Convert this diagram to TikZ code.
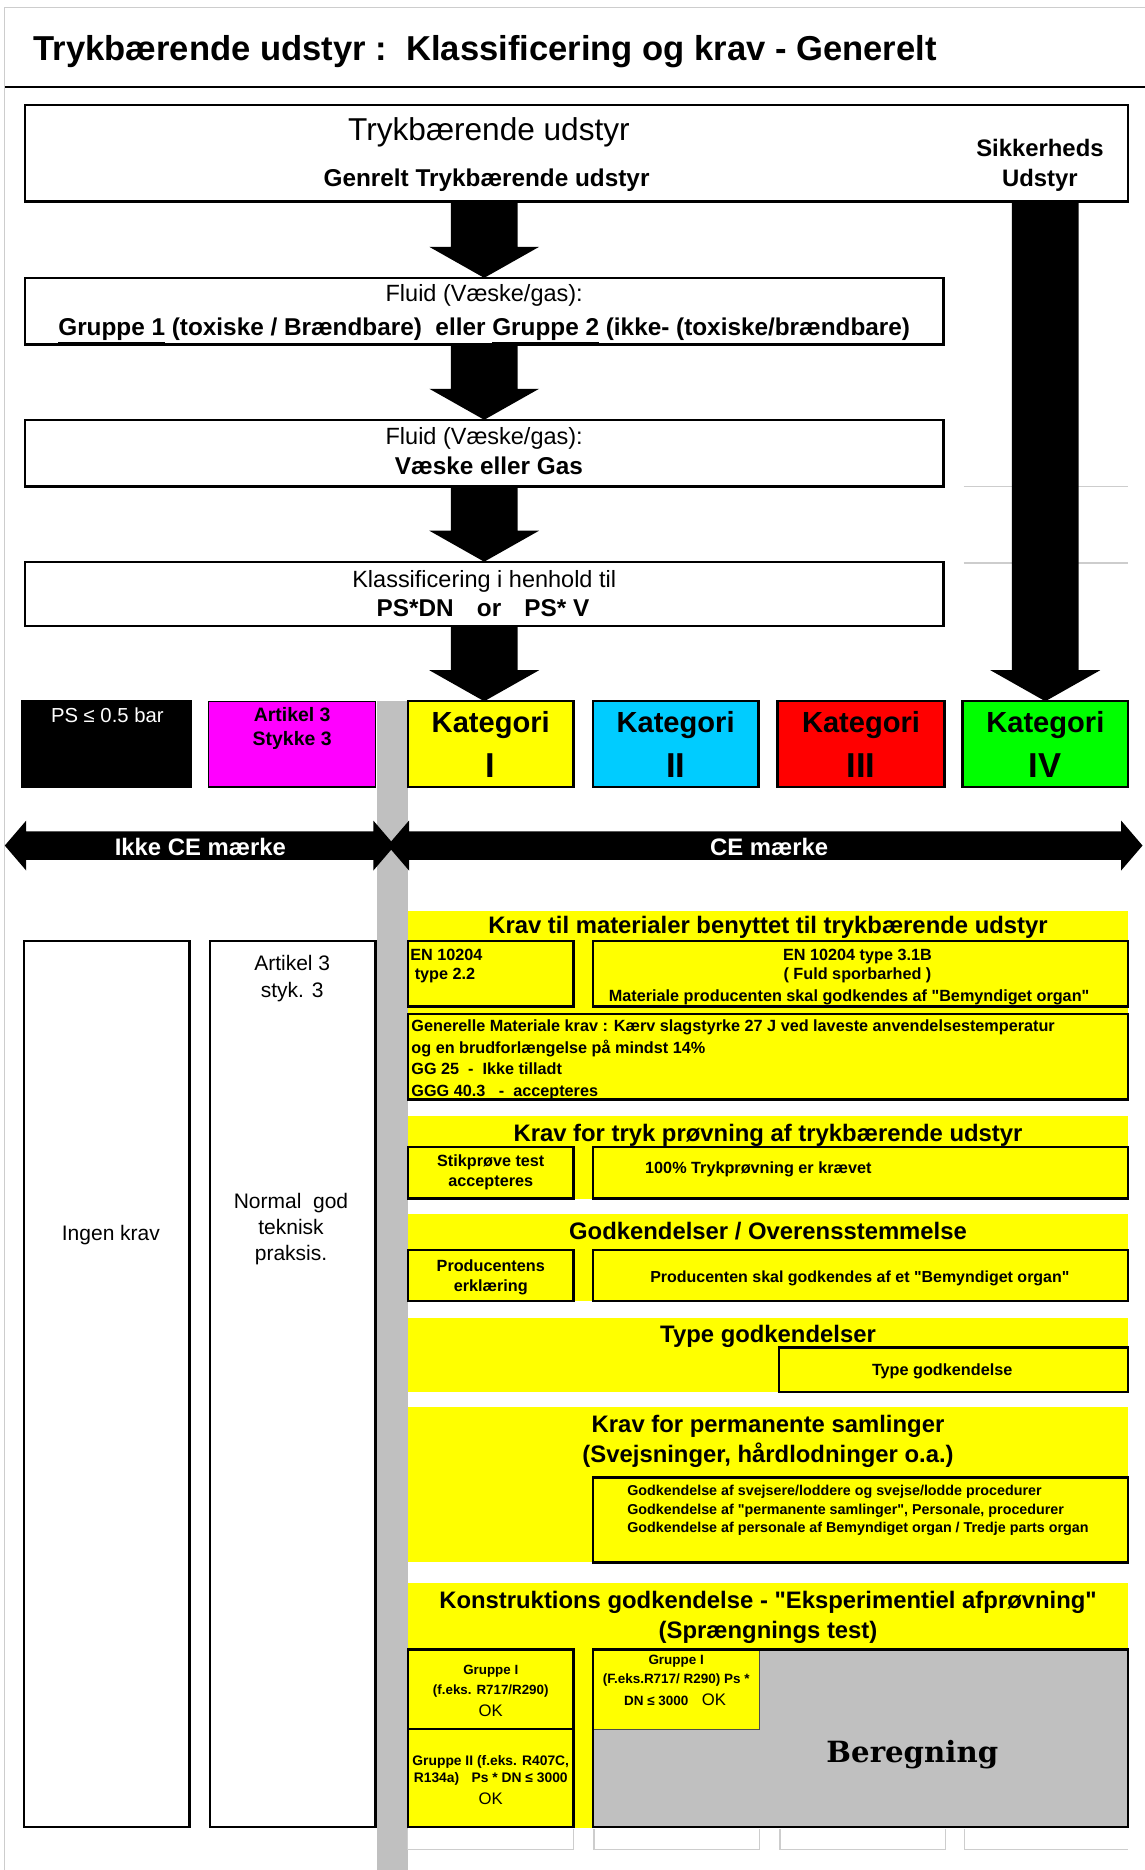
\documentclass[tikz,border=0pt]{standalone}
\usepackage{fontspec}
\setmainfont{Liberation Sans}[Ligatures=TeXOff]
\newfontfamily\slabfont{DejaVu Serif}
\usetikzlibrary{calc}

\definecolor{kyellow}{RGB}{255,255,0}
\definecolor{kcyan}{RGB}{0,204,255}
\definecolor{kred}{RGB}{255,0,0}
\definecolor{kgreen}{RGB}{0,255,0}
\definecolor{kmagenta}{RGB}{255,0,255}
\definecolor{kgray}{RGB}{192,192,192}
\definecolor{faint}{RGB}{205,205,205}

% straight double quote
\newcommand\dq{\symbol{34}}

\tikzset{
  panel/.style={draw=black, line width=2pt, fill=white, anchor=north west,
                inner sep=0pt, outer sep=0pt},
  tx/.style={anchor=base, inner sep=0pt, outer sep=0pt},
  txl/.style={tx, anchor=base west},
  fb/.style={font=\fontsize{#1}{#1}\selectfont\bfseries},
  fr/.style={font=\fontsize{#1}{#1}\selectfont},
}

% rectangle given by its corners: [style]{name}{x1}{y1}{x2}{y2}
\newcommand\panelbox[6][]{%
  \node[panel,#1,minimum width={#5-#3},minimum height={#6-#4}] (#2) at (#3,#4) {};}
% one line of text: [style]{name}{x,y}{text}
\newcommand\tline[4][]{\node[tx,#1] (#2) at (#3) {#4};}
% broad downward block arrow from #1 to the tip #2
\newcommand\blockdown[2]{%
  \fill let \p1=(#1), \p2=(#2) in
    (\x2-28pt,\y1) -- (\x2+28pt,\y1) -- (\x2+28pt,\y2+26pt) -- (\x2+46pt,\y2+26pt)
    -- (\x2,\y2) -- (\x2-46pt,\y2+26pt) -- (\x2-28pt,\y2+26pt) -- cycle;}
% horizontal double-headed block arrow between two tips
\newcommand\blockboth[2]{%
  \fill let \p1=(#1), \p2=(#2) in
    (\x1,\y1) -- (\x1+18pt,\y1+21pt) -- (\x1+18pt,\y1+12pt) -- (\x2-18pt,\y1+12pt)
    -- (\x2-18pt,\y1+21pt) -- (\x2,\y1) -- (\x2-18pt,\y1-21pt) -- (\x2-18pt,\y1-12pt)
    -- (\x1+18pt,\y1-12pt) -- (\x1+18pt,\y1-21pt) -- cycle;}

\begin{document}
\begin{tikzpicture}[x=1pt,y=-1pt]
\useasboundingbox (0,0) rectangle (960,1568);

% page frame and title rule
\draw[faint, line width=1pt] (4,1568) -- (4,6) -- (960,6);
\draw[black, line width=2.2pt] (4,73) -- (960,73);
\node[txl,fb=29] (title) at (28,51) {Trykbærende udstyr :\ \ Klassificering og krav - Generelt};

% separator band between the two halves
\panelbox[draw=none,fill=kgray]{band}{316}{588}{342}{1568}

% classification flow
\panelbox{b1}{21}{88}{946}{169}
\panelbox{b2}{21}{233}{791}{289}
\panelbox{b3}{21}{352}{791}{408}
\panelbox{b4}{21}{471}{791}{525}
\draw[faint, line width=1pt] (808,408) -- (946,408) (808,472) -- (946,472);

% category row
\panelbox[fill=black]{ps}{19}{588}{160}{660}
\panelbox[fill=kmagenta,line width=1.2pt]{art}{175}{588}{315}{660}
\panelbox[fill=kyellow]{kat1}{342}{588}{481}{660}
\panelbox[fill=kcyan]{kat2}{497}{588}{636}{660}
\panelbox[fill=kred]{kat3}{652}{588}{792}{660}
\panelbox[fill=kgreen]{kat4}{807}{588}{946}{660}

% block arrows
\blockdown{b1.south -| b2.north}{b2.north}
\blockdown{b2.south}{b3.north}
\blockdown{b3.south}{b4.north}
\blockdown{b4.south}{b4.south |- kat1.north}
\blockdown{b1.south -| kat4.north}{kat4.north}

% CE marking arrows
\coordinate (ikL) at (4,709);
\coordinate (ikR) at (331,709);
\coordinate (ceL) at (325,709);
\coordinate (ceR) at (958,709);
\blockboth{ikL}{ikR}
\blockboth{ceL}{ceR}

% left columns
\panelbox{lc1}{20}{789}{159}{1532}
\panelbox{lc2}{176}{789}{315}{1532}

% requirement sections
\panelbox[draw=none,fill=kyellow]{s1}{342}{764}{946}{923}
\panelbox[fill=kyellow]{s1a}{342}{789}{481}{844}
\panelbox[fill=kyellow]{s1b}{497}{789}{946}{844}
\panelbox[fill=kyellow]{s1c}{342}{850}{946}{922}

\panelbox[draw=none,fill=kyellow]{s2}{342}{936}{946}{1005}
\panelbox[fill=kyellow]{s2a}{342}{962}{481}{1005}
\panelbox[fill=kyellow]{s2b}{497}{962}{946}{1005}

\panelbox[draw=none,fill=kyellow]{s3}{342}{1018}{946}{1091}
\panelbox[fill=kyellow]{s3a}{342}{1048}{481}{1091}
\panelbox[fill=kyellow]{s3b}{497}{1048}{946}{1091}

\panelbox[draw=none,fill=kyellow]{s4}{342}{1105}{946}{1167}
\panelbox[fill=kyellow]{s4b}{653}{1130}{946}{1167}

\panelbox[draw=none,fill=kyellow]{s5}{342}{1180}{946}{1310}
\panelbox[fill=kyellow]{s5b}{497}{1239}{946}{1310}

\panelbox[draw=none,fill=kyellow]{s6}{342}{1327}{946}{1533}
\panelbox[fill=kyellow]{s6a}{342}{1383}{481}{1450}
\panelbox[fill=kyellow]{s6b}{342}{1450}{481}{1532}
\panelbox[fill=kgray]{s6c}{497}{1383}{946}{1532}
\panelbox[fill=kyellow,draw=black!70,line width=1.3pt]{s6d}{497}{1383}{637}{1450}
\draw[line width=2pt] (s6c.north west) rectangle (s6c.south east);

% empty cells below
\draw[faint, line width=1pt]
  (342,1534) -- (342,1551) -- (481,1551) -- (481,1534)
  (498,1534) -- (498,1551) -- (637,1551) -- (637,1534)
  (654,1534) -- (654,1551) -- (793,1551) -- (793,1534)
  (809,1534) -- (809,1551) -- (946,1551);

% texts: flow boxes
\tline[fr=26.5]{b1t1}{410,118}{Trykbærende udstyr}
\tline[fb=20.4]{b1t2}{408,156}{Genrelt Trykbærende udstyr}
\tline[fb=20]{b1t3}{872,131}{Sikkerheds}
\tline[fb=20]{b1t4}{872,156}{Udstyr}

\tline[fr=19.7]{b2t1}{406,253}{Fluid (Væske/gas):}
\tline[fb=20.4]{b2t2}{406,281}{\underline{Gruppe 1} (toxiske / Brændbare)\ \ eller \underline{Gruppe 2} (ikke- (toxiske/brændbare)}

\tline[fr=19.7]{b3t1}{406,373}{Fluid (Væske/gas):}
\tline[fb=20.4]{b3t2}{410,398}{Væske eller Gas}

\tline[fr=19.7]{b4t1}{406,493}{Klassificering i henhold til}
\tline[fb=20.4]{b4t2}{405,517}{PS*DN\hspace{0.95em}or\hspace{0.95em}PS* V}

% texts: categories
\tline[fr=17,text=white]{pst}{90,606}{PS ≤ 0.5 bar}
\tline[fb=16.3]{artt1}{245,605}{Artikel 3}
\tline[fb=16.3]{artt2}{245,625}{Stykke 3}
\tline[fb=24.4]{k1a}{411.5,614}{Kategori}
\tline[fb=29]{k1b}{411.5,652}{I}
\tline[fb=24.4]{k2a}{566.5,614}{Kategori}
\tline[fb=29]{k2b}{566.5,652}{II}
\tline[fb=24.4]{k3a}{722,614}{Kategori}
\tline[fb=29]{k3b}{722,652}{III}
\tline[fb=24.4]{k4a}{876.5,614}{Kategori}
\tline[fb=29]{k4b}{876.5,652}{IV}

\tline[fb=20,text=white]{ikke}{168,717}{Ikke CE mærke}
\tline[fb=20,text=white]{ce}{645,717}{CE mærke}

% texts: left columns
\tline[fr=17.6]{lc1t}{93,1040}{Ingen krav}
\tline[fr=17.6]{lc2t1}{245,814}{Artikel 3}
\tline[fr=17.6]{lc2t2}{245,836}{styk. 3}
\tline[fr=17.6]{lc2t3}{244,1013}{Normal\ \ god}
\tline[fr=17.6]{lc2t4}{244,1035}{teknisk}
\tline[fr=17.6]{lc2t5}{244,1057}{praksis.}

% texts: section 1
\tline[fb=20]{s1t}{644,783}{Krav til materialer benyttet til trykbærende udstyr}
\node[txl,fb=13.6] (s1a1) at (344,805) {EN 10204};
\node[txl,fb=13.6] (s1a2) at (344,821) {\ type 2.2};
\tline[fb=13.6]{s1b1}{719,805}{EN 10204 type 3.1B}
\tline[fb=13.6]{s1b2}{719,821}{( Fuld sporbarhed )}
\tline[fb=13.6]{s1b3}{712,840}{Materiale producenten skal godkendes af \dq Bemyndiget organ\dq}
\node[txl,fb=13.6] (s1c1) at (345,865) {Generelle Materiale krav : Kærv slagstyrke 27 J ved laveste anvendelsestemperatur};
\node[txl,fb=13.6] (s1c2) at (345,883) {og en brudforlængelse på mindst 14\%};
\node[txl,fb=13.6] (s1c3) at (345,901) {GG 25\ \ -\ \ Ikke tilladt};
\node[txl,fb=13.6] (s1c4) at (345,919) {GGG 40.3\ \ \ -\ \ accepteres};

% texts: section 2
\tline[fb=20]{s2t}{644,957}{Krav for tryk prøvning af trykbærende udstyr}
\tline[fb=13.6]{s2a1}{411.5,978}{Stikprøve test}
\tline[fb=13.6]{s2a2}{411.5,995}{accepteres}
\node[txl,fb=13.6] (s2b1) at (541,984) {100\% Trykprøvning er krævet};

% texts: section 3
\tline[fb=20]{s3t}{644,1039}{Godkendelser / Overensstemmelse}
\tline[fb=13.6]{s3a1}{411.5,1066}{Producentens}
\tline[fb=13.6]{s3a2}{411.5,1083}{erklæring}
\tline[fb=13.4]{s3b1}{721,1075}{Producenten skal godkendes af et \dq Bemyndiget organ\dq}

% texts: section 4
\tline[fb=20]{s4t}{644,1126}{Type godkendelser}
\tline[fb=13.6]{s4b1}{790,1153}{Type godkendelse}

% texts: section 5
\tline[fb=20]{s5t1}{644,1201}{Krav for permanente samlinger}
\tline[fb=20]{s5t2}{644,1226}{(Svejsninger, hårdlodninger o.a.)}
\node[txl,fb=12] (s5b1) at (526,1254) {Godkendelse af svejsere/loddere og svejse/lodde procedurer};
\node[txl,fb=12] (s5b2) at (526,1270) {Godkendelse af \dq permanente samlinger\dq, Personale, procedurer};
\node[txl,fb=12] (s5b3) at (526,1285) {Godkendelse af personale af Bemyndiget organ / Tredje parts organ};

% texts: section 6
\tline[fb=20]{s6t1}{644,1349}{Konstruktions godkendelse - \dq Eksperimentiel afprøvning\dq}
\tline[fb=20]{s6t2}{644,1374}{(Sprængnings test)}
\tline[fb=11.2]{g1a}{411.5,1404}{Gruppe I}
\tline[fb=11.2]{g1b}{411.5,1421}{(f.eks. R717/R290)}
\tline[fr=14]{g1c}{411.5,1439}{OK}
\tline[fb=11.6]{g2a}{411.5,1480}{Gruppe II (f.eks. R407C,}
\tline[fb=11.6]{g2b}{411.5,1495}{R134a)\hspace{0.9em}Ps * DN ≤ 3000}
\tline[fr=14]{g2c}{411.5,1513}{OK}
\tline[fb=11.3]{g3a}{567,1396}{Gruppe I}
\tline[fb=11.3]{g3b}{567,1412}{(F.eks.R717/ R290) Ps *}
\tline[fb=11.3]{g3c}{566,1430}{DN ≤ 3000\hspace{1em}{\fontsize{14}{14}\selectfont\mdseries OK}}
\tline[font=\slabfont\bfseries\fontsize{24.5}{24.5}\selectfont]{beregn}{765,1478}{Beregning}

\end{tikzpicture}
\end{document}
